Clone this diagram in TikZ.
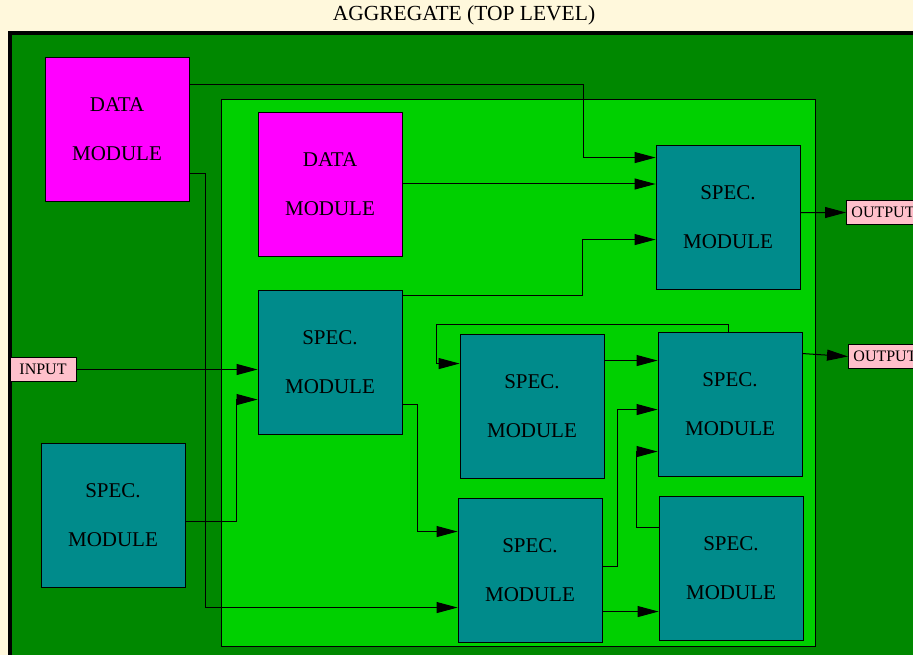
\documentclass[tikz,border=0pt]{standalone}
\usepackage{fontspec}
\setmainfont{Liberation Serif}
\usetikzlibrary{arrows.meta}
\definecolor{cream}{RGB}{255,248,220}
\definecolor{aggrgreen}{RGB}{0,136,0}
\definecolor{innergreen}{RGB}{0,208,0}
\definecolor{datamagenta}{RGB}{255,0,255}
\definecolor{specteal}{RGB}{0,139,139}
\definecolor{portpink}{RGB}{255,192,203}
\tikzset{
  every picture/.style={line join=miter, >={Triangle[length=21pt,width=11pt]}},
  modbox/.style={draw=black, line width=0.9pt, minimum width=144pt, minimum height=144pt,
    inner sep=0pt, align=center, font=\fontsize{21}{49}\selectfont},
  datamod/.style={modbox, fill=datamagenta},
  specmod/.style={modbox, fill=specteal},
  portbox/.style={draw=black, line width=0.9pt, fill=portpink, inner xsep=5pt, inner ysep=0pt,
    minimum height=24pt, font=\fontsize{16}{18}\selectfont},
  wire/.style={->, line width=1pt},
}

\begin{document}
\begin{tikzpicture}[x=1pt,y=-1pt]
\useasboundingbox (0,0) rectangle (913,655);
\clip (0,0) rectangle (913,655);
\fill[cream] (0,0) rectangle (913,655);
\node[anchor=base, font=\fontsize{21.5}{24}\selectfont] (title) at (464,20.7) {AGGREGATE (TOP LEVEL)};
% aggregate and inner block
\draw[fill=aggrgreen, line width=3.5pt] (10,33) rectangle (960,700);
\draw[fill=innergreen, line width=1pt] (221,100) rectangle (815,646);
% modules
\node[datamod] (data1) at (117,129) {DATA\\MODULE};
\node[datamod] (data2) at (330,184) {DATA\\MODULE};
\foreach \n/\x/\y in {specA/330/362,specB/113/515,specC/532/406,specD/530/570,
  specE/728/217,specF/730/404,specG/731/568}{\node[specmod] (\n) at (\x,\y) {SPEC.\\MODULE};}
% ports
\node[portbox, minimum width=66pt] (input) at (43,369.5) {INPUT};
\node[portbox, anchor=west] (out1) at (846,212.5) {OUTPUT};
\node[portbox, anchor=west] (out2) at (848,356.5) {OUTPUT};
% connectors
\draw[wire] ([yshift=-28pt]data1.north east) -- ++(394,0) |- ([yshift=-13pt]specE.north west);
\draw[wire] (data2.east) -- (specE.west |- data2.east);
\draw[wire] ([yshift=-6pt]specA.north east) -- ++(180,0) |- ([yshift=-95pt]specE.north west);
\draw[wire] ([yshift=-117pt]data1.north east) -- ++(16,0) |- ([yshift=-110pt]specD.north west);
\draw[wire] (input.east) -- (specA.west |- input.east);
\draw[wire] ([yshift=-79pt]specB.north east) -- ++(51,0) |- ([yshift=-110pt]specA.north west);
\draw[wire] ([yshift=-115pt]specA.north east) -- ++(15,0) |- ([yshift=-34pt]specD.north west);
\draw[wire] ([xshift=-2pt]specF.north) |- ++(-292,-7) |- ([yshift=-30pt]specC.north west);
\draw[wire] ([yshift=-27pt]specC.north east) -- ([yshift=-29pt]specF.north west);
\draw[wire] ([yshift=-69pt]specD.north east) -- ++(15,0) |- ([yshift=-78pt]specF.north west);
\draw[wire] ([yshift=-32pt]specG.north west) -- ++(-22,0) |- ([yshift=-120pt]specF.north west);
\draw[wire] ([yshift=-114pt]specD.north east) -- ([yshift=-116pt]specG.north west);
\draw[wire] ([yshift=-68pt]specE.north east) -- (out1.west);
\draw[wire] ([yshift=-22pt]specF.north east) -- (out2.west);
\end{tikzpicture}
\end{document}
